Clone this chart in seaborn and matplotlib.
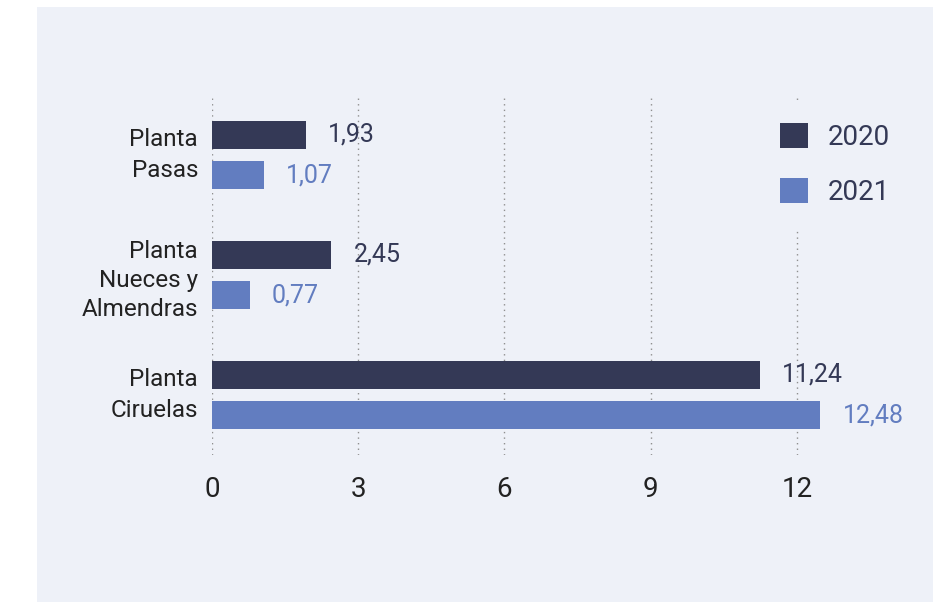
import numpy as np
import pandas as pd
import seaborn as sns
import matplotlib.pyplot as plt
from matplotlib.patches import Rectangle

# Datos
plantas = ['Planta\nPasas', 'Planta\nNueces y\nAlmendras', 'Planta\nCiruelas']
anios = ['2020', '2021']
valores_2020 = [1.93, 2.45, 11.24]
valores_2021 = [1.07, 0.77, 12.48]
ticks_x = [0, 3, 6, 9, 12]

color_2020 = '#343956'
color_2021 = '#627dc0'
fondo = '#eef1f8'
texto = '#222222'

df = pd.DataFrame({
    'planta': plantas * 2,
    'anio': [anios[0]] * 3 + [anios[1]] * 3,
    'valor': valores_2020 + valores_2021,
})

sns.set_style('white')
plt.rcParams['font.family'] = ['Roboto', 'DejaVu Sans']

fig = plt.figure(figsize=(9.33, 6.02), dpi=100, facecolor='white')
fig.add_artist(Rectangle((37 / 933, 0), 1 - 37 / 933, 1 - 7 / 602,
                         transform=fig.transFigure, facecolor=fondo,
                         edgecolor='none', zorder=0))
ax = fig.add_axes([0.2272, 0.2442, 0.7315, 0.598])
ax.set_facecolor('none')

sns.barplot(data=df, x='valor', y='planta', hue='anio', orient='h',
            palette=[color_2020, color_2021], saturation=1,
            width=0.67, gap=0.3, linewidth=0, ax=ax)

# Etiquetas de valor con coma decimal
for cont, vals, col in zip(ax.containers, [valores_2020, valores_2021],
                           [color_2020, color_2021]):
    ax.bar_label(cont, labels=[f'{v:.2f}'.replace('.', ',') for v in vals],
                 padding=16, fontsize=18, color=col)

ax.set_xlim(0, 14)
ax.set_ylim(2.5, -0.5)
ax.set_xticks(ticks_x)
ax.set_xlabel('')
ax.set_ylabel('')
ax.xaxis.grid(True, linestyle=(0, (1, 3)), color='#8f8f8f', linewidth=1)
ax.yaxis.grid(False)
ax.set_axisbelow(True)
for s in ax.spines.values():
    s.set_visible(False)
ax.tick_params(axis='x', length=0, pad=15, labelsize=20, labelcolor=texto)
ax.tick_params(axis='y', length=0, pad=10, labelsize=17.5, labelcolor=texto)
for lbl in ax.get_yticklabels():
    if 'Nueces' in lbl.get_text():
        lbl.set_linespacing(1.33)
    else:
        lbl.set_linespacing(1.4)
        lbl.set_verticalalignment('center')

leg = ax.legend(loc='upper left', bbox_to_anchor=(0.778, 1.025), fontsize=20,
                frameon=True, facecolor=fondo, edgecolor='none', framealpha=1,
                fancybox=False, borderpad=0.85, handlelength=1.0,
                handleheight=1.0, handletextpad=0.7, labelspacing=0.95,
                title=None)
for t in leg.get_texts():
    t.set_color(color_2020)

fig.savefig('out.png', dpi=100, facecolor='white')
